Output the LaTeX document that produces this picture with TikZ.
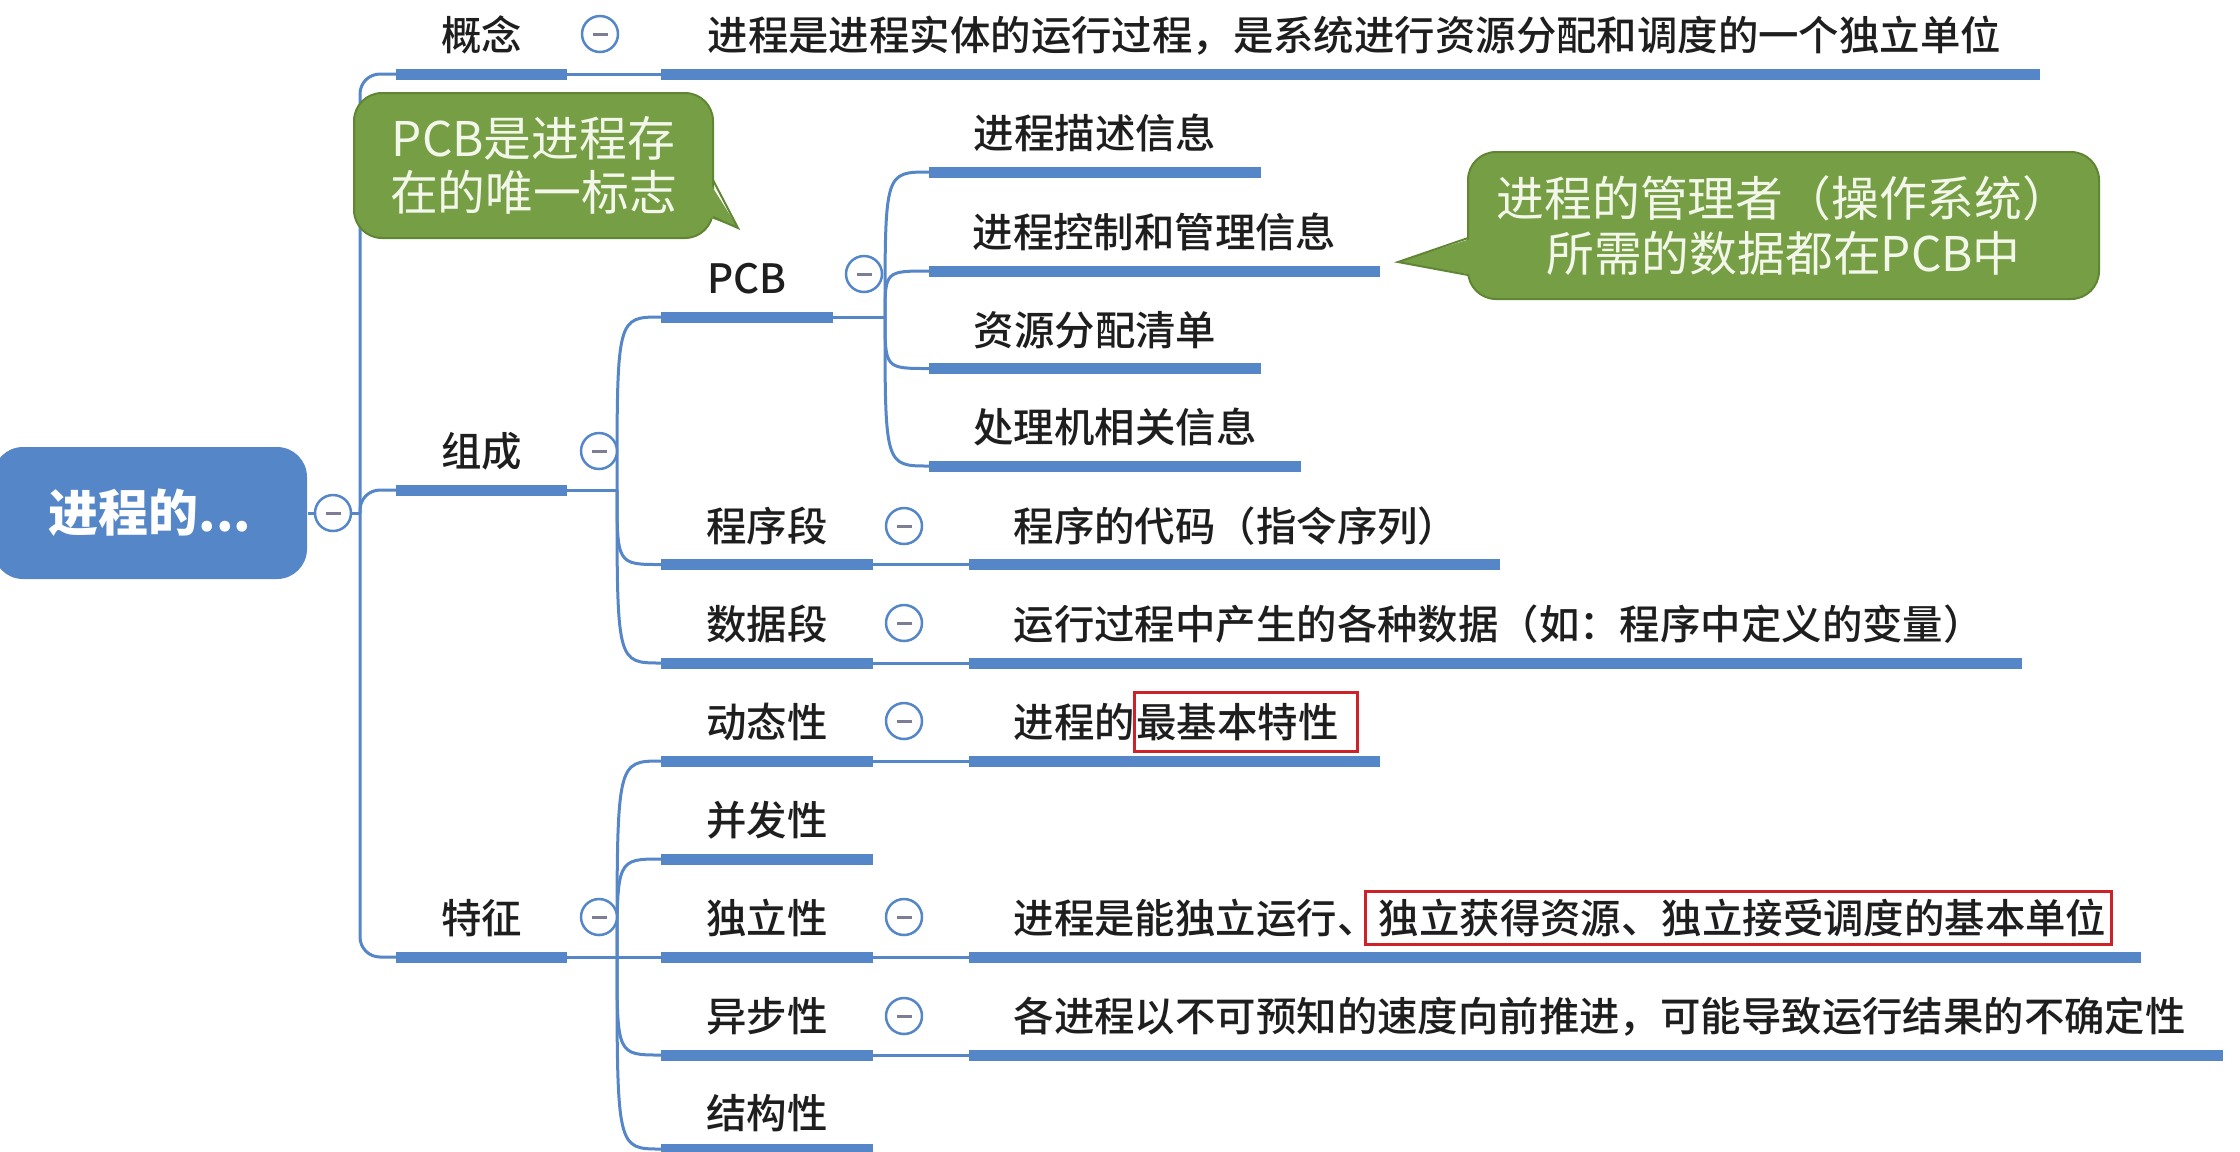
\documentclass[tikz,border=0pt]{standalone}
\usepackage{fontspec}
\setmainfont{Noto Sans CJK SC}
\newfontfamily\mmmed{Noto Sans CJK SC Medium}
\definecolor{mmblue}{RGB}{84,134,200}
\definecolor{mmgreen}{RGB}{118,158,68}
\definecolor{mmgreendk}{RGB}{96,134,52}
\definecolor{mmtext}{RGB}{30,30,30}
\definecolor{mmred}{RGB}{205,35,40}
\definecolor{mmminus}{RGB}{125,125,150}
\definecolor{mmcall}{RGB}{243,247,234}
% underline of a topic: name, x left, x right, y
\newcommand{\mmline}[4]{%
  \coordinate (#1-a) at (#2,#4);
  \coordinate (#1-b) at (#3,#4);
  \draw[uline] (#1-a) -- (#1-b);}
\begin{document}
\begin{tikzpicture}[x=1cm, y=-1cm,
    uline/.style={line width=0.11cm, mmblue},
    link/.style={line width=0.03cm, mmblue},
    lvl/.style={text=mmtext, inner sep=0pt, text height=0.36cm, text depth=0.05cm, font=\mmmed\fontsize{11.5}{13}\selectfont},
    fold/.style={circle, draw=mmblue, line width=0.025cm, fill=white, minimum size=0.36cm, inner sep=0pt,
      path picture={\draw[mmminus, line width=0.03cm] ([xshift=-0.075cm]path picture bounding box.center) -- ([xshift=0.075cm]path picture bounding box.center);}},
    root/.style={fill=mmblue, rounded corners=0.3cm, minimum width=3.14cm, minimum height=1.32cm, inner sep=0pt,
      text=white, font=\fontsize{14.2}{16}\selectfont\bfseries},
    callbox/.style={fill=mmgreen, draw=mmgreendk, line width=0.02cm, rounded corners=0.28cm, inner sep=0pt,
      text=mmcall, align=center, font=\fontsize{13.6}{15.4}\selectfont},
    hl/.style={draw=mmred, line width=0.03cm}]
    \clip (0,0) rectangle (22.4,11.51);

    % root
    \node[root] (root) at (1.50,5.13) {进程的...};
    \coordinate (trunk) at (3.60,5.13);

    % underlines
    \mmline{gn}{3.96}{5.67}{0.74}
    \mmline{gn-x}{6.61}{20.40}{0.74}
    \mmline{zc}{3.96}{5.67}{4.90}
    \mmline{tz}{3.96}{5.67}{9.57}
    \mmline{pcb}{6.61}{8.33}{3.17}
    \mmline{ms}{9.29}{12.61}{1.72}
    \mmline{kz}{9.29}{13.80}{2.71}
    \mmline{zy}{9.29}{12.61}{3.685}
    \mmline{cl}{9.29}{13.01}{4.66}
    \mmline{cxd}{6.61}{8.73}{5.645}
    \mmline{cxd-x}{9.69}{15.00}{5.645}
    \mmline{sjd}{6.61}{8.73}{6.63}
    \mmline{sjd-x}{9.69}{20.22}{6.63}
    \mmline{dtx}{6.61}{8.73}{7.61}
    \mmline{dtx-x}{9.69}{13.80}{7.61}
    \mmline{bfx}{6.61}{8.73}{8.59}
    \mmline{dlx}{6.61}{8.73}{9.57}
    \mmline{dlx-x}{9.69}{21.41}{9.57}
    \mmline{ybx}{6.61}{8.73}{10.55}
    \mmline{ybx-x}{9.69}{22.23}{10.55}
    \mmline{jgx}{6.61}{8.73}{11.49}

    % texts
    \node[lvl] (gn) at (4.815,0.35) {概念};
    \node[lvl, anchor=west] (gn-t) at (7.07,0.35) {进程是进程实体的运行过程，是系统进行资源分配和调度的一个独立单位};
    \node[lvl] (zc) at (4.815,4.51) {组成};
    \node[lvl] (tz) at (4.815,9.18) {特征};
    \node[lvl] (pcb) at (7.47,2.78) {PCB};
    \node[lvl] (ms) at (10.95,1.33) {进程描述信息};
    \node[lvl] (kz) at (11.545,2.32) {进程控制和管理信息};
    \node[lvl] (zy) at (10.95,3.295) {资源分配清单};
    \node[lvl] (cl) at (11.15,4.27) {处理机相关信息};
    \node[lvl] (cxd) at (7.67,5.255) {程序段};
    \node[lvl, anchor=west] (cxd-t) at (10.13,5.255) {程序的代码（指令序列）};
    \node[lvl] (sjd) at (7.67,6.24) {数据段};
    \node[lvl, anchor=west] (sjd-t) at (10.13,6.24) {运行过程中产生的各种数据（如：程序中定义的变量）};
    \node[lvl] (dtx) at (7.67,7.22) {动态性};
    \node[lvl, anchor=west] (dtx-t) at (10.13,7.22) {进程的};
    \node[lvl, anchor=west] (dtx-h) at (dtx-t.east) {最基本特性};
    \node[lvl] (bfx) at (7.67,8.20) {并发性};
    \node[lvl] (dlx) at (7.67,9.18) {独立性};
    \node[lvl, anchor=west] (dlx-t) at (10.13,9.18) {进程是能独立运行、};
    \node[lvl, anchor=west] (dlx-h) at (dlx-t.east) {独立获得资源、独立接受调度的基本单位};
    \node[lvl] (ybx) at (7.67,10.16) {异步性};
    \node[lvl, anchor=west] (ybx-t) at (10.13,10.16) {各进程以不可预知的速度向前推进，可能导致运行结果的不确定性};
    \node[lvl] (jgx) at (7.67,11.13) {结构性};

    % connectors
    \coordinate (zc-j) at (6.17,4.90);
    \coordinate (tz-j) at (6.17,9.57);
    \coordinate (pcb-j) at (8.85,3.17);
    \foreach \t in {gn,zc,tz}
        \draw[link, rounded corners=0.2cm] (trunk) |- (\t-a);
    \draw[link] (gn-b) -- (gn-x-a);
    \draw[link] (zc-b) -- (zc-j);
    \draw[link] (tz-b) -- (tz-j);
    \draw[link] (pcb-b) -- (pcb-j);
    \foreach \c in {pcb,cxd,sjd}
        \draw[link] (zc-j) .. controls (zc-j |- \c-a) .. (\c-a);
    \foreach \c in {dtx,bfx,dlx,ybx,jgx}
        \draw[link] (tz-j) .. controls (tz-j |- \c-a) .. (\c-a);
    \foreach \c in {ms,kz,zy,cl}
        \draw[link] (pcb-j) .. controls (pcb-j |- \c-a) .. (\c-a);
    \foreach \c in {cxd,sjd,dtx,dlx,ybx}
        \draw[link] (\c-b) -- (\c-x-a);

    % fold buttons
    \foreach \n/\p in {root-f/{3.33,5.13}, gn-f/{6.00,0.34}, zc-f/{5.99,4.51}, tz-f/{5.99,9.17},
        pcb-f/{8.64,2.74}, cxd-f/{9.04,5.26}, sjd-f/{9.04,6.23}, dtx-f/{9.04,7.21},
        dlx-f/{9.04,9.17}, ybx-f/{9.04,10.16}}
        \node[fold] (\n) at (\p) {};
    \draw[link] (root) -- (root-f) -- (trunk);

    % highlights
    \draw[hl] ([shift={(-0.01,0.08)}]dtx-h.south west) rectangle ([shift={(0.18,-0.08)}]dtx-h.north east);
    \draw[hl] ([shift={(-0.13,0.05)}]dlx-h.south west) rectangle ([shift={(0.04,-0.05)}]dlx-h.north east);

    % callouts
    \node[callbox, minimum width=3.59cm, minimum height=1.45cm] (cb1) at (5.335,1.655) {PCB是进程存\\在的唯一标志};
    \coordinate (cb1-tip) at (7.38,2.28);
    \fill[mmgreen] (7.08,1.80) -- (cb1-tip) -- (7.08,2.17) -- cycle;
    \draw[mmgreendk, line width=0.02cm] (7.13,1.80) -- (cb1-tip) -- (7.13,2.17);
    \node[callbox, minimum width=6.31cm, minimum height=1.47cm] (cb2) at (17.835,2.255) {进程的管理者（操作系统）\\所需的数据都在PCB中};
    \coordinate (cb2-tip) at (13.98,2.62);
    \fill[mmgreen] (14.73,2.38) -- (cb2-tip) -- (14.73,2.75) -- cycle;
    \draw[mmgreendk, line width=0.02cm] (14.68,2.38) -- (cb2-tip) -- (14.68,2.75);
\end{tikzpicture}
\end{document}
